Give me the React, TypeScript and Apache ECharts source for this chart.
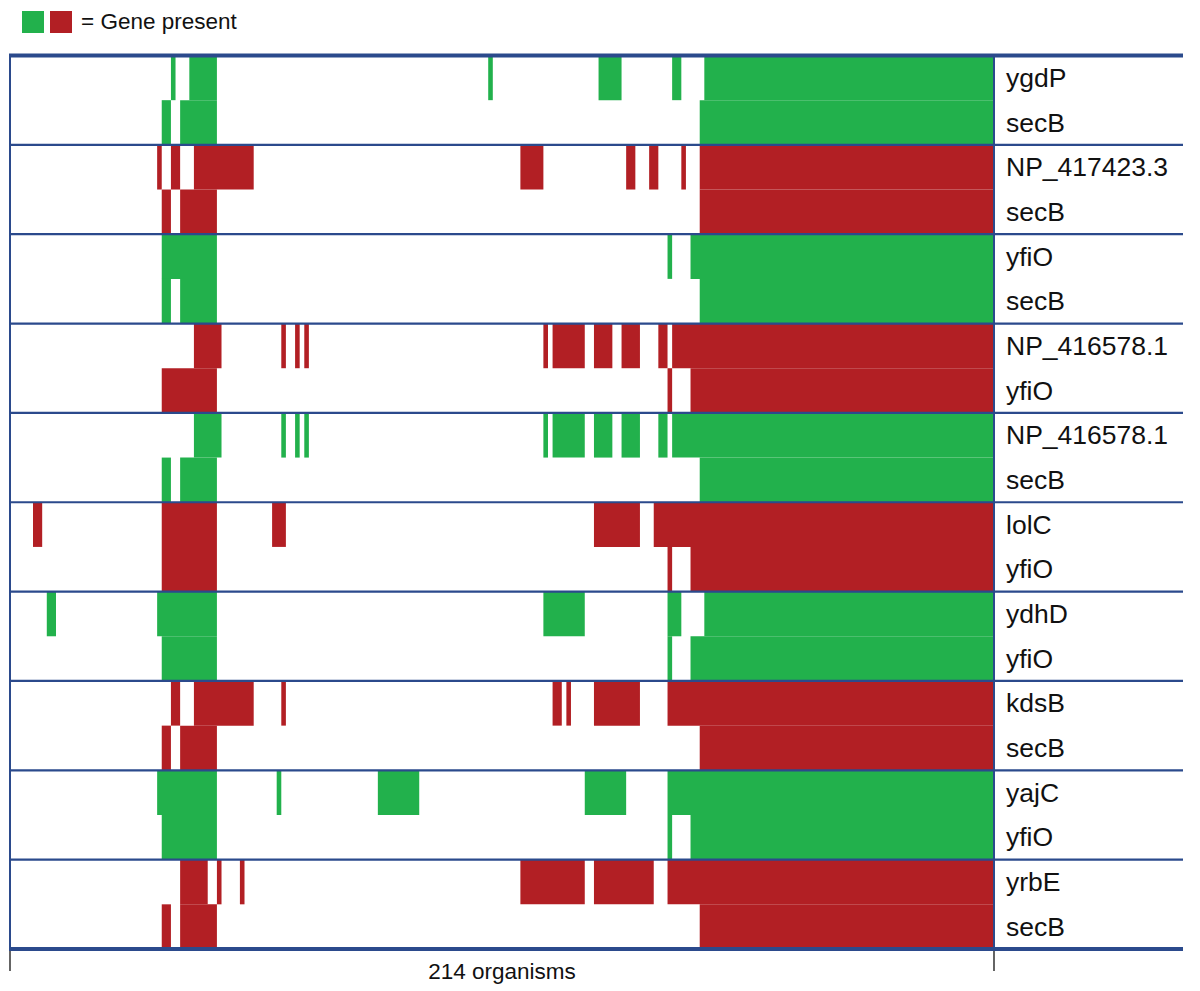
import React, { useEffect, useRef } from "react";
import * as echarts from "echarts";

const ORGANISMS = 214;

const rowLabels = [
  "ygdP", "secB",
  "NP_417423.3", "secB",
  "yfiO", "secB",
  "NP_416578.1", "yfiO",
  "NP_416578.1", "secB",
  "lolC", "yfiO",
  "ydhD", "yfiO",
  "kdsB", "secB",
  "yajC", "yfiO",
  "yrbE", "secB",
];

// colour of each pair of rows (0 = green, 1 = red)
const pairColor = [0, 1, 0, 1, 0, 1, 0, 1, 0, 1];

// runs of organisms that carry the gene: [first, last] (0-based, inclusive)
type Run = [number, number];
const r00_ygdP: Run[] = [[35, 35], [39, 44], [104, 104], [128, 132], [144, 145], [151, 213]];
const r01_secB: Run[] = [[33, 34], [37, 44], [150, 213]];
const r02_NP417423: Run[] = [[32, 32], [35, 36], [40, 52], [111, 115], [134, 135], [139, 140], [146, 146], [150, 213]];
const r03_secB: Run[] = [[33, 34], [37, 44], [150, 213]];
const r04_yfiO: Run[] = [[33, 44], [143, 143], [148, 213]];
const r05_secB: Run[] = [[33, 34], [37, 44], [150, 213]];
const r06_NP416578: Run[] = [[40, 45], [59, 59], [62, 62], [64, 64], [116, 116], [118, 124], [127, 130], [133, 136], [141, 142], [144, 213]];
const r07_yfiO: Run[] = [[33, 44], [143, 143], [148, 213]];
const r08_NP416578: Run[] = [[40, 45], [59, 59], [62, 62], [64, 64], [116, 116], [118, 124], [127, 130], [133, 136], [141, 142], [144, 213]];
const r09_secB: Run[] = [[33, 34], [37, 44], [150, 213]];
const r10_lolC: Run[] = [[5, 6], [33, 44], [57, 59], [127, 136], [140, 213]];
const r11_yfiO: Run[] = [[33, 44], [143, 143], [148, 213]];
const r12_ydhD: Run[] = [[8, 9], [32, 44], [116, 124], [143, 145], [151, 213]];
const r13_yfiO: Run[] = [[33, 44], [143, 143], [148, 213]];
const r14_kdsB: Run[] = [[35, 36], [40, 52], [59, 59], [118, 119], [121, 121], [127, 136], [143, 213]];
const r15_secB: Run[] = [[33, 34], [37, 44], [150, 213]];
const r16_yajC: Run[] = [[32, 44], [58, 58], [80, 88], [125, 133], [143, 213]];
const r17_yfiO: Run[] = [[33, 44], [143, 143], [148, 213]];
const r18_yrbE: Run[] = [[37, 42], [45, 45], [50, 50], [111, 124], [127, 139], [143, 213]];
const r19_secB: Run[] = [[33, 34], [37, 44], [150, 213]];

const rowRuns: Run[][] = [
  r00_ygdP, r01_secB, r02_NP417423, r03_secB, r04_yfiO, r05_secB,
  r06_NP416578, r07_yfiO, r08_NP416578, r09_secB, r10_lolC, r11_yfiO,
  r12_ydhD, r13_yfiO, r14_kdsB, r15_secB, r16_yajC, r17_yfiO, r18_yrbE, r19_secB,
];

const GREEN = "#22b14c";
const RED = "#b21f24";
const BLUE = "#2b4a8c";
const FONT = "'Liberation Sans', Arial, Helvetica, sans-serif";

export default function App() {
  const ref = useRef<HTMLDivElement>(null);

  useEffect(() => {
    if (!ref.current) return;
    const chart = echarts.init(ref.current, null, { renderer: "svg" });

    const cellData: number[][] = [];
    rowRuns.forEach((runs, row) => {
      runs.forEach(([a, b]) => {
        cellData.push([a, b + 1, row, pairColor[Math.floor(row / 2)]]);
      });
    });

    // group boundaries (row index where the line sits above); 20 = bottom edge
    const boundaries: number[][] = [];
    for (let i = 0; i <= rowLabels.length; i += 2) boundaries.push([0, i]);

    const option: any = {
      animation: false,
      backgroundColor: "#ffffff",
      grid: { left: 10, right: 206, top: 55.5, height: 893.5, containLabel: false },
      xAxis: {
        type: "value",
        min: 0,
        max: ORGANISMS,
        axisLine: { show: false },
        axisTick: { show: false },
        axisLabel: { show: false },
        splitLine: { show: false },
        name: `${ORGANISMS} organisms`,
        nameLocation: "middle",
        nameGap: 11,
        nameTextStyle: { fontSize: 22.5, color: "#111", fontFamily: FONT, verticalAlign: "top" },
      },
      yAxis: {
        type: "category",
        data: rowLabels,
        inverse: true,
        position: "right",
        axisLine: { show: false },
        axisTick: { show: false },
        splitLine: { show: false },
        axisLabel: { margin: 12, fontSize: 26.5, color: "#111", fontFamily: FONT },
      },
      graphic: [
        { type: "rect", left: 22, top: 11, shape: { width: 22, height: 22 }, style: { fill: GREEN } },
        { type: "rect", left: 50, top: 11, shape: { width: 22, height: 22 }, style: { fill: RED } },
        {
          type: "text", left: 81, top: 10,
          style: { text: "= Gene present", fontSize: 22.5, fill: "#111", fontFamily: FONT },
        },
      ],
      series: [
        {
          type: "custom",
          name: "presence",
          coordinateSystem: "cartesian2d",
          encode: { x: [0, 1], y: 2 },
          data: cellData,
          z: 2,
          renderItem: (params: any, api: any) => {
            const s = api.coord([api.value(0), api.value(2)]);
            const e = api.coord([api.value(1), api.value(2)]);
            const h = api.size([0, 1])[1];
            return {
              type: "rect",
              shape: { x: s[0], y: s[1] - h / 2, width: e[0] - s[0], height: h },
              style: { fill: api.value(3) === 0 ? GREEN : RED, stroke: null },
            };
          },
        },
        {
          type: "custom",
          name: "frame",
          coordinateSystem: "cartesian2d",
          encode: { x: 0, y: 1 },
          data: boundaries,
          z: 5,
          silent: true,
          renderItem: (params: any, api: any) => {
            const r = api.value(1);
            const h = api.size([0, 1])[1];
            const last = rowLabels.length;
            let y: number;
            if (r < last) y = api.coord([0, r])[1] - h / 2;
            else y = api.coord([0, last - 1])[1] + h / 2;
            const x0 = api.coord([0, 0])[0];
            const x1 = api.coord([ORGANISMS, 0])[0];
            const thick = r === 0 || r === last;
            const children: any[] = [
              {
                type: "line",
                shape: { x1: x0 - 1, y1: y, x2: x1 + 189, y2: y },
                style: { stroke: BLUE, lineWidth: thick ? 4 : 2.2 },
              },
            ];
            if (r === 0) {
              const yBottom = api.coord([0, last - 1])[1] + h / 2;
              children.push(
                { type: "line", shape: { x1: x0, y1: y, x2: x0, y2: yBottom }, style: { stroke: BLUE, lineWidth: 2 } },
                { type: "line", shape: { x1: x1, y1: y, x2: x1, y2: yBottom }, style: { stroke: BLUE, lineWidth: 2 } }
              );
            }
            if (r === last) {
              children.push(
                { type: "line", shape: { x1: x0, y1: y + 2, x2: x0, y2: y + 22 }, style: { stroke: "#111", lineWidth: 1.3 } },
                { type: "line", shape: { x1: x1, y1: y + 2, x2: x1, y2: y + 22 }, style: { stroke: "#111", lineWidth: 1.3 } }
              );
            }
            return { type: "group", children };
          },
        },
      ],
    };

    chart.setOption(option);
    return () => chart.dispose();
  }, []);

  return (
    <div
      ref={ref}
      style={{ position: "absolute", left: 0, top: 0, width: 1200, height: 991, background: "#fff" }}
    />
  );
}
